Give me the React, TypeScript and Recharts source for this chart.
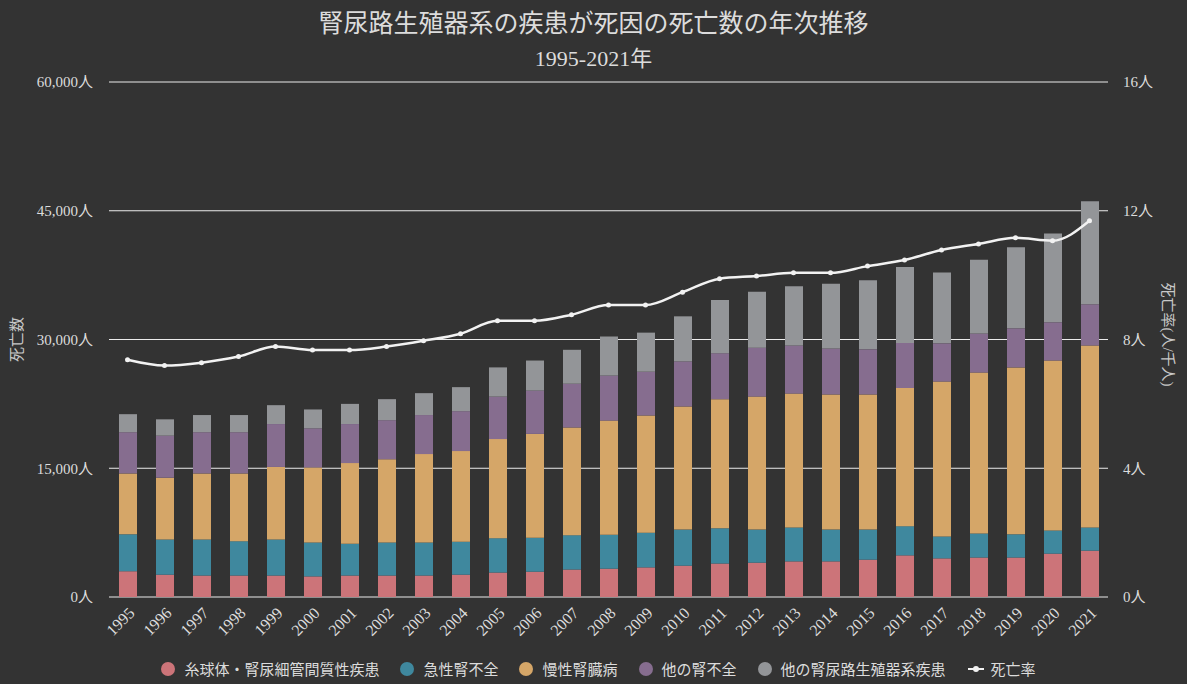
import React from "react";
import {
  ComposedChart,
  Bar,
  Line,
  XAxis,
  YAxis,
  CartesianGrid,
} from "recharts";

const years = [
  "1995", "1996", "1997", "1998", "1999", "2000", "2001", "2002", "2003",
  "2004", "2005", "2006", "2007", "2008", "2009", "2010", "2011", "2012",
  "2013", "2014", "2015", "2016", "2017", "2018", "2019", "2020", "2021",
];

// 糸球体・腎尿細管間質性疾患
const glomerular = [
  3000, 2600, 2500, 2500, 2500, 2400, 2500, 2500, 2500, 2600, 2850, 2950, 3200,
  3300, 3450, 3650, 3900, 4000, 4150, 4150, 4350, 4850, 4500, 4600, 4600, 5050, 5400,
];
// 急性腎不全
const acute = [
  4300, 4100, 4200, 4000, 4200, 3950, 3700, 3850, 3850, 3850, 4000, 3950, 4000,
  3950, 4050, 4200, 4100, 3850, 3950, 3700, 3500, 3400, 2550, 2800, 2700, 2700, 2700,
];
// 慢性腎臓病
const chronic = [
  7100, 7200, 7700, 7900, 8450, 8750, 9400, 9700, 10300, 10550, 11550, 12100, 12550,
  13300, 13650, 14350, 15050, 15500, 15600, 15750, 15750, 16100, 18050, 18750, 19450,
  19800, 21200,
];
// 他の腎不全
const otherRenal = [
  4800, 4900, 4800, 4800, 5000, 4550, 4550, 4550, 4550, 4650, 4950, 5050, 5100,
  5250, 5100, 5250, 5350, 5700, 5600, 5350, 5250, 5250, 4450, 4550, 4550, 4450, 4800,
];
// 他の腎尿路生殖器系疾患
const otherGU = [
  2100, 1900, 2000, 2000, 2200, 2200, 2350, 2450, 2550, 2800, 3400, 3500, 3950,
  4550, 4550, 5250, 6200, 6500, 6900, 7550, 8050, 8850, 8250, 8600, 9450, 10350, 12000,
];
// 死亡率 (人/千人)
const rate = [
  7.37, 7.19, 7.28, 7.47, 7.78, 7.67, 7.67, 7.78, 7.96, 8.18, 8.58, 8.58, 8.77,
  9.07, 9.07, 9.47, 9.89, 9.97, 10.07, 10.07, 10.28, 10.47, 10.78, 10.97, 11.16,
  11.07, 11.69,
];

const leftTicks = [0, 15000, 30000, 45000, 60000];
const rightTicks = [0, 4, 8, 12, 16];

const series = [
  { key: "glomerular", name: "糸球体・腎尿細管間質性疾患", color: "#cc7479" },
  { key: "acute", name: "急性腎不全", color: "#3f889e" },
  { key: "chronic", name: "慢性腎臓病", color: "#d5a668" },
  { key: "otherRenal", name: "他の腎不全", color: "#866d8f" },
  { key: "otherGU", name: "他の腎尿路生殖器系疾患", color: "#939598" },
];

const data = years.map((year, i) => ({
  year,
  glomerular: glomerular[i],
  acute: acute[i],
  chronic: chronic[i],
  otherRenal: otherRenal[i],
  otherGU: otherGU[i],
  rate: rate[i],
}));

const FONT = "'Liberation Serif', 'Noto Sans CJK JP', serif";
const TEXT = "#dcdcdc";

function LeftTitle(props: any) {
  const { x, y, height } = props.viewBox;
  const cx = x + 17;
  const cy = y + height / 2;
  return (
    <text
      x={cx}
      y={cy}
      transform={`rotate(-90, ${cx}, ${cy})`}
      textAnchor="middle"
      dominantBaseline="central"
      fill="#c8c8c8"
      fontSize={15}
      fontFamily={FONT}
    >
      死亡数
    </text>
  );
}

function RightTitle(props: any) {
  const { x, y, height } = props.viewBox;
  const cx = x + 60;
  const cy = y + height / 2 - 5;
  return (
    <text
      x={cx}
      y={cy}
      transform={`rotate(90, ${cx}, ${cy})`}
      textAnchor="middle"
      dominantBaseline="central"
      fill="#c8c8c8"
      fontSize={15}
      fontFamily={FONT}
    >
      死亡率(人/千人)
    </text>
  );
}

function ChartLegend() {
  return (
    <div
      style={{
        position: "absolute",
        top: 658,
        left: 0,
        width: 1187,
        display: "flex",
        justifyContent: "center",
        alignItems: "center",
        fontFamily: FONT,
        fontSize: 15,
        color: TEXT,
        paddingLeft: 10,
        boxSizing: "border-box",
      }}
    >
      {series.map((s) => (
        <div
          key={s.key}
          style={{ display: "flex", alignItems: "center", marginRight: 21 }}
        >
          <span
            style={{
              width: 14,
              height: 14,
              borderRadius: 7,
              background: s.color,
              marginRight: 9,
              display: "inline-block",
            }}
          />
          <span>{s.name}</span>
        </div>
      ))}
      <div style={{ display: "flex", alignItems: "center" }}>
        <svg width={18} height={14} style={{ marginRight: 6 }}>
          <line x1={1} y1={7} x2={17} y2={7} stroke="#f2f2f2" strokeWidth={2} />
          <circle cx={9} cy={7} r={3} fill="#f2f2f2" />
        </svg>
        <span>死亡率</span>
      </div>
    </div>
  );
}

export default function App() {
  return (
    <div
      style={{
        position: "absolute",
        left: 0,
        top: 0,
        width: 1187,
        height: 684,
        background: "#333333",
        fontFamily: FONT,
        overflow: "hidden",
      }}
    >
      <div
        style={{
          position: "absolute",
          top: 3,
          width: 1187,
          textAlign: "center",
          fontSize: 25,
          color: TEXT,
        }}
      >
        腎尿路生殖器系の疾患が死因の死亡数の年次推移
      </div>
      <div
        style={{
          position: "absolute",
          top: 40,
          width: 1187,
          textAlign: "center",
          fontSize: 22,
          color: TEXT,
        }}
      >
        1995-2021年
      </div>

      <ComposedChart
        width={1187}
        height={684}
        data={data}
        margin={{ top: 82, right: 0, bottom: 0, left: 0 }}
      >
        <CartesianGrid
          yAxisId="left"
          vertical={false}
          stroke="#ececec"
          strokeWidth={1}
        />
        <XAxis
          dataKey="year"
          height={87}
          tickLine={false}
          axisLine={false}
          tickSize={0}
          tickMargin={9}
          angle={-45}
          textAnchor="end"
          interval={0}
          tick={{ fill: TEXT, fontSize: 16, fontFamily: FONT }}
        />
        <YAxis
          yAxisId="left"
          orientation="left"
          width={109}
          domain={[0, 60000]}
          ticks={leftTicks}
          tickLine={false}
          axisLine={false}
          tickSize={0}
          tickMargin={16}
          tickFormatter={(v: number) => `${v.toLocaleString("en-US")}人`}
          tick={{ fill: TEXT, fontSize: 15, fontFamily: FONT }}
          label={<LeftTitle />}
        />
        <YAxis
          yAxisId="right"
          orientation="right"
          width={79}
          domain={[0, 16]}
          ticks={rightTicks}
          tickLine={false}
          axisLine={false}
          tickSize={0}
          tickMargin={15}
          tickFormatter={(v: number) => `${v}人`}
          tick={{ fill: TEXT, fontSize: 15, fontFamily: FONT }}
          label={<RightTitle />}
        />
        {series.map((s) => (
          <Bar
            key={s.key}
            yAxisId="left"
            dataKey={s.key}
            name={s.name}
            stackId="deaths"
            fill={s.color}
            barSize={18}
            isAnimationActive={false}
          />
        ))}
        <Line
          yAxisId="right"
          type="monotone"
          dataKey="rate"
          name="死亡率"
          stroke="#f2f2f2"
          strokeWidth={2.5}
          dot={{ r: 2.5, fill: "#f2f2f2", stroke: "#f2f2f2", strokeWidth: 0 }}
          isAnimationActive={false}
        />
      </ComposedChart>

      <ChartLegend />
    </div>
  );
}
